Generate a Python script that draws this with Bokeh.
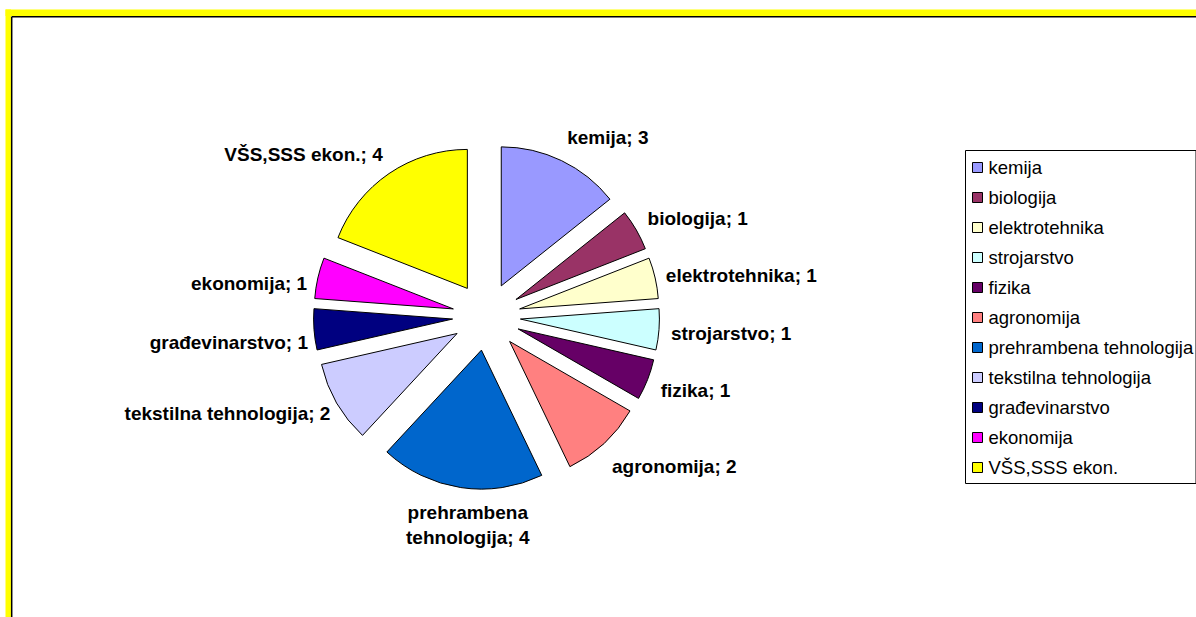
import math
from bokeh.plotting import figure
from bokeh.models import Range1d, ColumnDataSource
from bokeh.embed import file_html
from bokeh.resources import INLINE
from bokeh.core.properties import value

# ---------------- data ----------------
categories = ["kemija", "biologija", "elektrotehnika", "strojarstvo", "fizika",
              "agronomija", "prehrambena tehnologija", "tekstilna tehnologija",
              "građevinarstvo", "ekonomija", "VŠS,SSS ekon."]
counts = [3, 1, 1, 1, 1, 2, 4, 2, 1, 1, 4]
colors = ["#9999FF", "#993366", "#FFFFCC", "#CCFFFF", "#660066", "#FF8080",
          "#0066CC", "#CCCCFF", "#000080", "#FF00FF", "#FFFF00"]

# ---------------- layout ----------------
W, H = 1196, 617
FONT = "Liberation Sans"


def Y(img_y):
    return H - img_y


CX, CY_IMG = 486, 316
R = 139
EXPLODE = 34
LABEL_R = 186
# small placement tweaks for the data labels (pixels, image orientation)
label_nudge = [(0, -11), (0, -5), (-2, 0), (-1, 3), (1, 6), (-1, 14),
               (9, 25), (5, 4), (7, 12), (2, 8), (1, -8)]
wrap_labels = {"prehrambena tehnologija": "prehrambena\ntehnologija"}

p = figure(width=W, height=H, output_backend="svg", toolbar_location=None,
           x_range=Range1d(0, W), y_range=Range1d(0, H),
           x_axis_location=None, y_axis_location=None, min_border=0,
           tools="")
p.grid.visible = False
p.outline_line_color = None
p.background_fill_color = "white"
p.border_fill_color = "white"

# chart-area frame (yellow with a dark inner line)
p.quad(left=[5], right=[W + 5], top=[Y(9)], bottom=[Y(15.5)],
       fill_color="#FFFF00", line_color=None)
p.quad(left=[5], right=[10.5], top=[Y(9)], bottom=[Y(H + 5)],
       fill_color="#FFFF00", line_color=None)
p.line(x=[11.2, 11.2], y=[Y(H + 5), Y(16.2)], line_color="black", line_width=1.5)
p.line(x=[11.2, W + 5], y=[Y(16.2), Y(16.2)], line_color="black", line_width=1.5)

# ---------------- pie ----------------
total = sum(counts)
xs, ys, a_lo, a_hi, mids = [], [], [], [], []
cum = 0
for c in counts:
    hi = math.pi / 2 - 2 * math.pi * cum / total
    lo = math.pi / 2 - 2 * math.pi * (cum + c) / total
    mid = (hi + lo) / 2
    xs.append(CX + EXPLODE * math.cos(mid))
    ys.append(Y(CY_IMG) + EXPLODE * math.sin(mid))
    a_lo.append(lo)
    a_hi.append(hi)
    mids.append(mid)
    cum += c

src = ColumnDataSource(dict(x=xs, y=ys, lo=a_lo, hi=a_hi, color=colors,
                            cat=categories, n=counts))
p.wedge(x="x", y="y", radius=R, start_angle="lo", end_angle="hi",
        direction="anticlock", fill_color="color", line_color="black",
        line_width=1, source=src)

# data labels
for i, (cat, n) in enumerate(zip(categories, counts)):
    text = wrap_labels.get(cat, cat) + "; " + str(n)
    mid = mids[i]
    cx = math.cos(mid)
    ax = CX + LABEL_R * cx + label_nudge[i][0]
    ay = CY_IMG - LABEL_R * math.sin(mid) + label_nudge[i][1]
    align = "left" if cx > 0.3 else ("right" if cx < -0.3 else "center")
    lines = text.split("\n")
    lh = 25
    for j, ln in enumerate(lines):
        ly = ay + (j - (len(lines) - 1) / 2) * lh
        p.text(x=[ax], y=[Y(ly)], text=[ln], text_align=align,
               text_baseline="middle", text_font=value(FONT),
               text_font_style="bold", text_font_size="19px",
               text_color="black")

# ---------------- legend ----------------
LEG_L, LEG_R, LEG_T, LEG_B = 965, 1195.5, 150, 483
p.quad(left=[LEG_L], right=[LEG_R], top=[Y(LEG_T)], bottom=[Y(LEG_B)],
       fill_color="white", line_color="black", line_width=1)
leg_y = [Y(167 + 30 * i) for i in range(len(categories))]
p.rect(x=[977] * len(categories), y=leg_y, width=10, height=10,
       fill_color=colors, line_color="black", line_width=1)
p.text(x=[988] * len(categories), y=leg_y, text=categories, text_align="left",
       text_baseline="middle", text_font=value(FONT), text_font_size="18.5px",
       text_color="black")

open("out.html", "w").write(file_html(p, INLINE))
